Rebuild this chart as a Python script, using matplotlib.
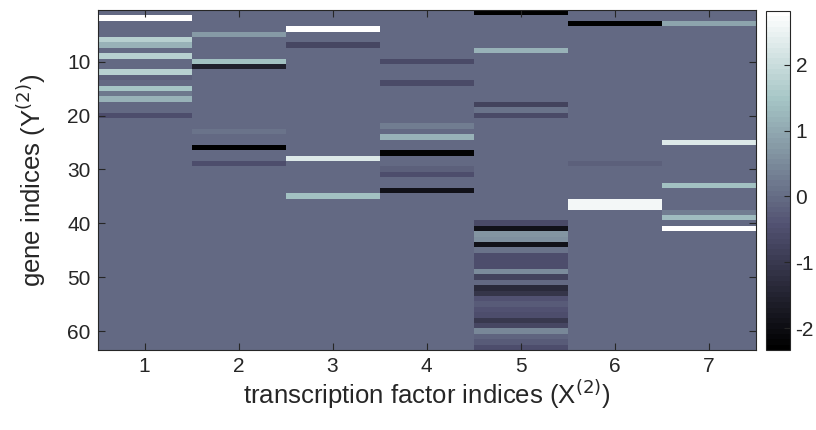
import numpy as np
import matplotlib
matplotlib.use("Agg")
import matplotlib.pyplot as plt

plt.rcParams['font.family'] = ['Liberation Sans', 'DejaVu Sans']
plt.rcParams['axes.unicode_minus'] = False

n_genes = 63
factors = [1, 2, 3, 4, 5, 6, 7]
y_ticks = [10, 20, 30, 40, 50, 60]
cbar_ticks = [-2, -1, 0, 1, 2]

# nonzero entries per factor: {gene index: value}
col1 = {2: 2.8, 6: 1.7, 7: 1.2, 9: 1.7, 12: 1.7, 13: -0.2, 15: 1.5, 16: 0.2, 17: 1.2, 20: -0.5}
col2 = {5: 0.8, 10: 1.4, 11: -1.6, 23: 0.1, 26: -2.3, 29: -0.5}
col3 = {4: 2.8, 7: -0.7, 28: 2.3, 35: 1.4}
col4 = {10: -0.6, 14: -0.6, 22: 0.25, 24: 1.2, 27: -2.2, 30: -0.2, 31: -0.5, 34: -1.9}
col5 = {1: -2.3, 8: 1.2, 18: -0.8, 19: 0.1, 20: -0.6,
        40: -0.6, 41: -1.9, 42: 0.65, 43: 0.6, 44: -1.9, 45: 0.15, 46: -0.5,
        47: -0.5, 48: -0.5, 49: 0.5, 50: -0.8, 51: 0.0, 52: -1.3, 53: -1.1,
        54: -0.4, 55: -0.3, 56: -0.4, 57: -0.5, 58: -1.0, 59: -0.7, 60: 0.45,
        61: -0.1, 62: -0.3, 63: -0.5}
col6 = {3: -2.3, 29: -0.2, 36: 2.6, 37: 2.6}
col7 = {3: 0.9, 25: 2.3, 33: 1.4, 38: 0.3, 39: 1.3, 41: 2.8}
columns = [col1, col2, col3, col4, col5, col6, col7]

Y = np.zeros((n_genes, len(factors)))
for j, col in enumerate(columns):
    for g, v in col.items():
        Y[g - 1, j] = v

vmin, vmax = -2.33, 2.82

fig = plt.figure(figsize=(8.16, 4.30), dpi=100)
ax = fig.add_axes([97.5/816, 1-350/430, (755.5-97.5)/816, (350-10.4)/430])
cmap = plt.get_cmap('bone', 64)
im = ax.imshow(Y, cmap=cmap, vmin=vmin, vmax=vmax, aspect='auto',
               interpolation='nearest',
               extent=[0.5, len(factors)+0.5, n_genes+0.5, 0.5])
ax.set_xticks(factors)
ax.set_yticks(y_ticks)
ax.tick_params(direction='in', top=True, right=True, labelsize=15,
               length=5, width=0.8, color='#262626', labelcolor='#262626', pad=5)
for s in ax.spines.values():
    s.set_color('#262626')
    s.set_linewidth(0.8)
ax.set_xlabel(r'transcription factor indices (X$^{(2)}$)', fontsize=18.5, color='#262626', labelpad=1)
ax.set_ylabel(r'gene indices (Y$^{(2)}$)', fontsize=18.5, color='#262626', labelpad=14)

cax = fig.add_axes([766/816, 1-350/430, 24/816, (350-10.7)/430])
cb = fig.colorbar(im, cax=cax, ticks=cbar_ticks)
cb.ax.tick_params(direction='in', labelsize=15, length=4, width=0.8,
                  color='#262626', labelcolor='#262626', pad=4)
cb.outline.set_edgecolor('#262626')
cb.outline.set_linewidth(0.8)

fig.savefig('out.png', dpi=100)
